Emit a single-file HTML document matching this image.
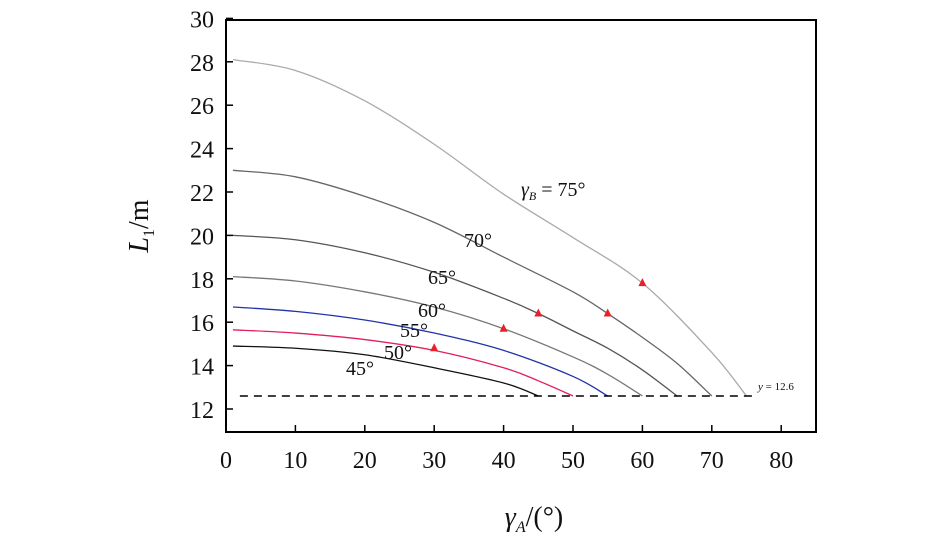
<!DOCTYPE html>
<html><head><meta charset="utf-8"><style>
body{margin:0;background:#fff}
svg text{font-family:"Liberation Serif",serif;fill:#111}
</style></head><body>
<svg id="c" width="945" height="539">
<rect width="945" height="539" fill="#fff"/>
<g id="g"></g>
</svg>
<script>
const xTicks=[0,10,20,30,40,50,60,70,80];
const yTicks=[12,14,16,18,20,22,24,26,28,30];
const seriesNames=["75","70","65","60","55","50","45"];
const seriesColors=["#aaa","#666","#555","#777","#2233aa","#e0205a","#111"];
const sx75=[1,10,20,30,40,50,60,70,75];
const sy75=[28.1,27.6,26.2,24.2,21.9,19.9,17.8,14.6,12.6];
const sx70=[1,10,20,30,40,50,55,60,65,70];
const sy70=[23.0,22.7,21.8,20.6,19.0,17.4,16.4,15.3,14.1,12.6];
const sx65=[1,10,20,30,40,45,50,55,60,65];
const sy65=[20.0,19.8,19.2,18.3,17.1,16.4,15.6,14.8,13.8,12.6];
const sx60=[1,10,20,30,40,50,55,60];
const sy60=[18.1,17.9,17.4,16.7,15.7,14.4,13.6,12.6];
const sx55=[1,10,20,30,40,50,55];
const sy55=[16.7,16.5,16.1,15.5,14.7,13.5,12.6];
const sx50=[1,10,20,30,40,45,50];
const sy50=[15.65,15.5,15.2,14.7,13.9,13.3,12.6];
const sx45=[1,10,20,30,40,45];
const sy45=[14.9,14.8,14.5,13.9,13.2,12.6];
const triX=[30,40,45,55,60];
const triY=[14.8,15.7,16.4,16.4,17.8];
const refY=12.6;
const X=v=>226+v*6.94, Y=v=>430.7-(v-11)*21.7;
const g=document.getElementById('g'),NS="http://www.w3.org/2000/svg";
function el(t,a,txt){const e=document.createElementNS(NS,t);for(const k in a)e.setAttribute(k,a[k]);if(txt!==undefined)e.textContent=txt;g.appendChild(e);return e;}
const xs=[sx75,sx70,sx65,sx60,sx55,sx50,sx45],ys=[sy75,sy70,sy65,sy60,sy55,sy50,sy45];
function smooth(px,py){let d=`M${px[0]},${py[0]}`;for(let i=0;i<px.length-1;i++){const p0=i?i-1:i,p3=i+2<px.length?i+2:i+1;const c1x=px[i]+(px[i+1]-px[p0])/6,c1y=py[i]+(py[i+1]-py[p0])/6,c2x=px[i+1]-(px[p3]-px[i])/6,c2y=py[i+1]-(py[p3]-py[i])/6;d+=` C${c1x},${c1y} ${c2x},${c2y} ${px[i+1]},${py[i+1]}`;}return d;}
for(let s=0;s<xs.length;s++){
const p=el('path',{d:smooth(xs[s].map(X),ys[s].map(Y)),fill:'none',stroke:seriesColors[s],'stroke-width':1.3});


}
const rl=el('line',{x1:X(2),x2:X(76),y1:Y(refY),y2:Y(refY),stroke:'#000','stroke-width':1.5,'stroke-dasharray':'8,6'});


for(let i=0;i<triX.length;i++){const x=X(triX[i]),y=Y(triY[i]);
const t=el('polygon',{points:`${x},${y-5} ${x-4},${y+3} ${x+4},${y+3}`,fill:'#e8202a'});

}
const fr=el('rect',{x:226,y:20,width:590,height:412,fill:'none',stroke:'#000','stroke-width':2});


xTicks.forEach(v=>{el('line',{x1:X(v),x2:X(v),y1:432,y2:425,stroke:'#000','stroke-width':1.5});
const t=el('text',{x:X(v),y:468,'font-size':24,'text-anchor':'middle'},v);

});
yTicks.forEach(v=>{el('line',{x1:226,x2:233,y1:Y(v),y2:Y(v),stroke:'#000','stroke-width':1.5});
const t=el('text',{x:214,y:Y(v)+9,'font-size':24,'text-anchor':'end'},v);

});
</script>
<svg width="945" height="539" style="position:absolute;left:0;top:0">
<text x="521" y="196" font-size="20" font-style="italic">γ<tspan font-size="12" dy="4">B</tspan><tspan dy="-4" font-style="normal"> = 75°</tspan></text>
<text x="464" y="247" font-size="20">70°</text>
<text x="428" y="284" font-size="20">65°</text>
<text x="418" y="317" font-size="20">60°</text>
<text x="400" y="337" font-size="20">55°</text>
<text x="384" y="359" font-size="20">50°</text>
<text x="346" y="375" font-size="20">45°</text>
<text x="758" y="390" font-size="11" font-family="Liberation Serif,serif"><tspan font-style="italic">y</tspan> = 12.6</text>
<text transform="translate(148,226) rotate(-90)" font-size="28" text-anchor="middle" font-family="Liberation Serif,serif"><tspan font-style="italic">L</tspan><tspan font-size="16" dy="6">1</tspan><tspan dy="-6">/m</tspan></text>
<text x="534" y="526" font-size="28" text-anchor="middle" font-family="Liberation Serif,serif"><tspan font-style="italic">γ</tspan><tspan font-size="16" dy="6" font-style="italic">A</tspan><tspan dy="-6">/(°)</tspan></text>
</svg>
</body></html>
